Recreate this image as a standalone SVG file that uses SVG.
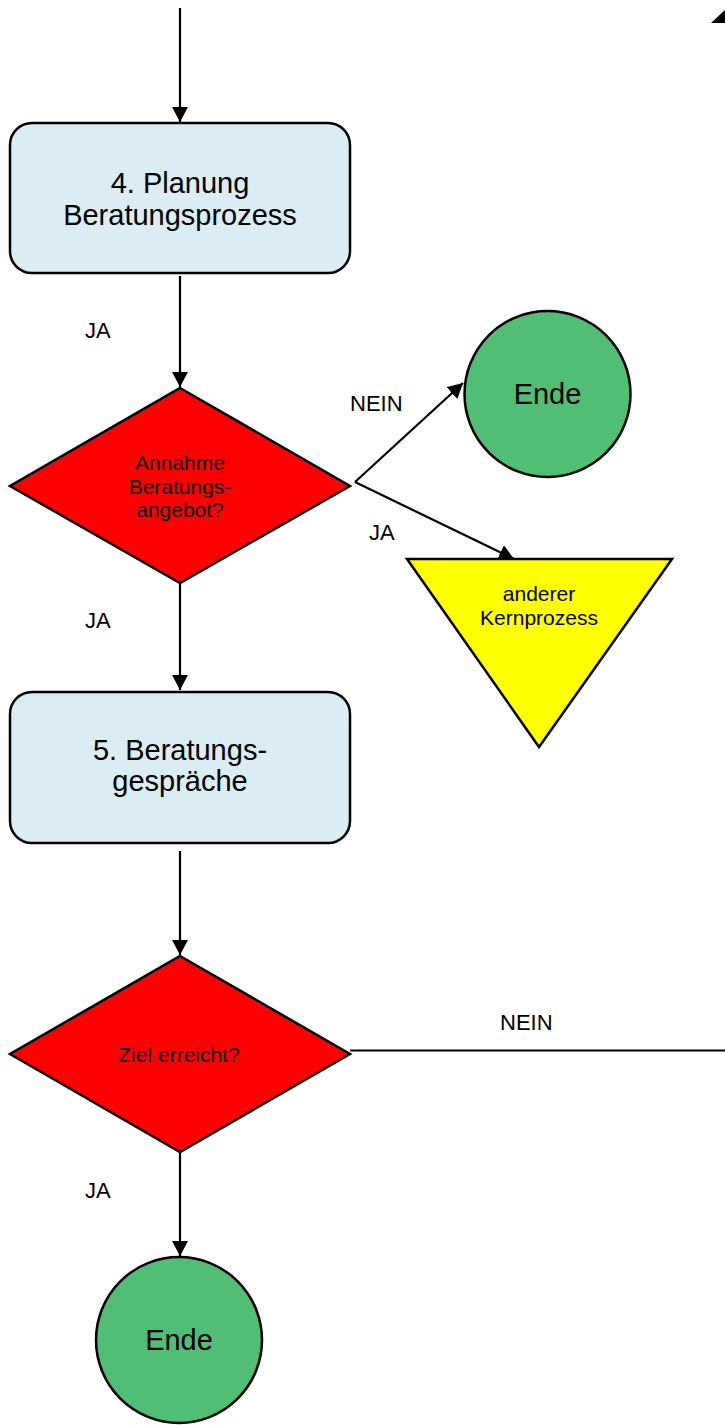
<svg xmlns="http://www.w3.org/2000/svg" width="725" height="1425" viewBox="0 0 725 1425">
  <defs>
    <marker id="arrow" markerUnits="userSpaceOnUse" markerWidth="17" markerHeight="17" refX="15" refY="8" orient="auto">
      <path d="M0,0 L15,8 L0,16 z" fill="#000"/>
    </marker>
    <style>
      .box { fill: #DAEDF3; stroke: #000; stroke-width: 2.5; }
      .dec { fill: #FF0000; stroke: #000; stroke-width: 2.5; }
      .end { fill: #50BE75; stroke: #000; stroke-width: 2.5; }
      .sub { fill: #FFFF00; stroke: #000; stroke-width: 2.5; }
      .edge { fill: none; stroke: #000; stroke-width: 2.2; }
      .arr { marker-end: url(#arrow); }
      text { font-family: "Liberation Sans", Arial, sans-serif; fill: #000; text-anchor: middle; }
      .big { font-size: 29px; }
      .small { font-size: 21px; }
      .lbl { font-size: 22px; text-anchor: start; }
    </style>
  </defs>

  <!-- connectors -->
  <g id="connectors">
    <line class="edge arr" x1="180" y1="8" x2="180" y2="122"/>
    <line class="edge arr" x1="180" y1="276" x2="180" y2="387"/>
    <line class="edge arr" x1="355" y1="482" x2="463" y2="383"/>
    <line class="edge arr" x1="355" y1="482" x2="514" y2="559"/>
    <line class="edge arr" x1="180" y1="583" x2="180" y2="690"/>
    <line class="edge arr" x1="180" y1="851" x2="180" y2="955"/>
    <line class="edge" x1="350" y1="1050.5" x2="725" y2="1050.5"/>
    <line class="edge arr" x1="180" y1="1152" x2="180" y2="1256"/>
    <!-- arrowhead of the return path, running along the right margin -->
    <polygon points="711,23 725,23 725,10" fill="#000"/>
    <text class="lbl" x="85" y="338">JA</text>
    <text class="lbl" x="350" y="411">NEIN</text>
    <text class="lbl" x="369" y="540">JA</text>
    <text class="lbl" x="85" y="628">JA</text>
    <text class="lbl" x="500" y="1030">NEIN</text>
    <text class="lbl" x="85" y="1198">JA</text>
  </g>

  <g id="planung">
    <rect class="box" x="10" y="123" width="340" height="150" rx="22" ry="22"/>
    <text class="big" x="180" y="193">4. Planung</text>
    <text class="big" x="180" y="225">Beratungsprozess</text>
  </g>

  <g id="annahme">
    <polygon class="dec" points="180,388 350,486 180,583 10,486"/>
    <text class="small" x="180" y="470">Annahme</text>
    <text class="small" x="180" y="494">Beratungs-</text>
    <text class="small" x="180" y="517">angebot?</text>
  </g>

  <g id="ende1">
    <circle class="end" cx="547.5" cy="394" r="83"/>
    <text class="big" x="547.5" y="404">Ende</text>
  </g>

  <g id="kernprozess">
    <polygon class="sub" points="407,559 672,559 539,747"/>
    <text class="small" x="539" y="601">anderer</text>
    <text class="small" x="539" y="625">Kernprozess</text>
  </g>

  <g id="gespraeche">
    <rect class="box" x="10" y="692" width="340" height="151" rx="22" ry="22"/>
    <text class="big" x="180" y="760">5. Beratungs-</text>
    <text class="big" x="180" y="791">gespräche</text>
  </g>

  <g id="ziel">
    <polygon class="dec" points="180,956 350,1054 180,1152 10,1054"/>
    <text class="small" x="179" y="1062">Ziel erreicht?</text>
  </g>

  <g id="ende2">
    <circle class="end" cx="179" cy="1340" r="83"/>
    <text class="big" x="179" y="1350">Ende</text>
  </g>
</svg>
